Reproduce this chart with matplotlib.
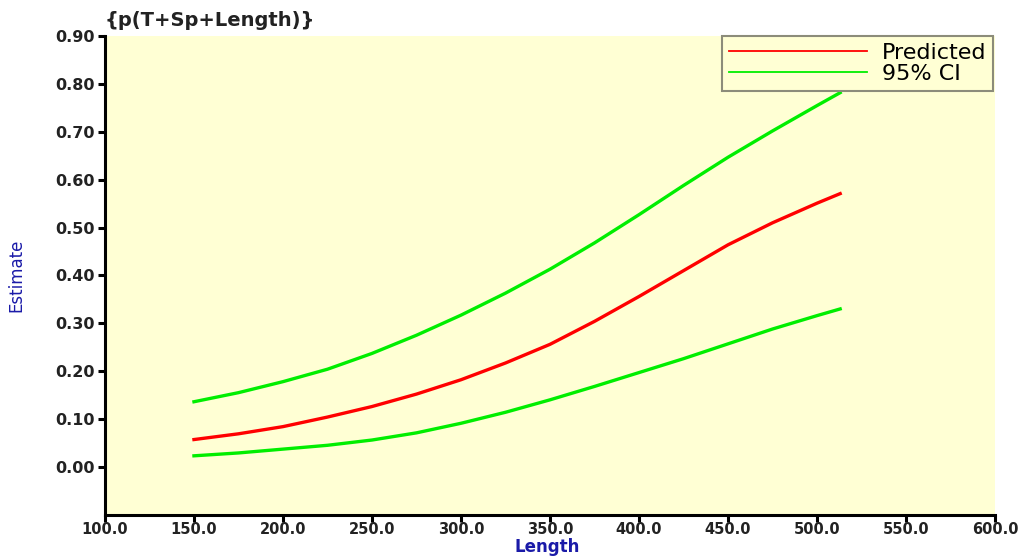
import matplotlib
matplotlib.use("Agg")
import matplotlib.pyplot as plt

# values
length = [150, 175, 200, 225, 250, 275, 300, 325, 350, 375, 400, 425, 450,
          475, 500, 513]
predicted = [0.057, 0.069, 0.084, 0.104, 0.126, 0.152, 0.182, 0.217, 0.256,
             0.304, 0.356, 0.410, 0.464, 0.510, 0.551, 0.571]
ci_upper = [0.136, 0.155, 0.178, 0.204, 0.237, 0.275, 0.317, 0.363, 0.413,
            0.468, 0.527, 0.588, 0.647, 0.702, 0.755, 0.782]
ci_lower = [0.023, 0.029, 0.037, 0.045, 0.056, 0.071, 0.091, 0.114, 0.140,
            0.168, 0.197, 0.226, 0.257, 0.288, 0.316, 0.330]

x_ticks = [100, 150, 200, 250, 300, 350, 400, 450, 500, 550, 600]
y_ticks = [0.0, 0.1, 0.2, 0.3, 0.4, 0.5, 0.6, 0.7, 0.8, 0.9]

fig = plt.figure(figsize=(10.29, 5.57), dpi=100)
ax = fig.add_axes([0.102, 0.076, 0.865, 0.859])
ax.set_facecolor("#ffffd4")

ax.plot(length, predicted, color="#ff0000", lw=2.4, label="Predicted")
ax.plot(length, ci_upper, color="#00ee00", lw=2.4, label="95% CI")
ax.plot(length, ci_lower, color="#00ee00", lw=2.4)

ax.set_xlim(100, 600)
ax.set_ylim(-0.1, 0.9)
ax.set_xticks(x_ticks)
ax.set_xticklabels([f"{v:.1f}" for v in x_ticks])
ax.set_yticks(y_ticks)
ax.set_yticklabels([f"{v:.2f}" for v in y_ticks])

for s in ["top", "right"]:
    ax.spines[s].set_visible(False)
for s in ["left", "bottom"]:
    ax.spines[s].set_linewidth(2.2)
ax.tick_params(direction="out", length=5, width=2.2, labelsize=11.5,
               colors="black", pad=2)
ax.tick_params(axis="x", pad=0, labelsize=10.5)
for lbl in ax.get_xticklabels() + ax.get_yticklabels():
    lbl.set_fontweight("bold")
    lbl.set_color("#222222")

ax.set_ylabel("Estimate", color="#1a1aa8", fontsize=12, labelpad=22)
fig.text(0.532, 0.001, "Length", color="#1a1aa8", fontsize=12,
         fontweight="bold", ha="center", va="bottom")

fig.text(0.102, 0.964, "{p(T+Sp+Length)}", fontsize=14, fontweight="bold",
         color="#222222", va="center", ha="left")

leg = ax.legend(loc="upper right", bbox_to_anchor=(0.998, 1.0), fontsize=16,
                handlelength=6.2, handletextpad=0.7, borderpad=0.3,
                borderaxespad=0, labelspacing=0.05, fancybox=False,
                framealpha=1, facecolor="#ffffd4", edgecolor="#8c8c7a")
leg.get_frame().set_linewidth(1.5)
for line in leg.get_lines():
    line.set_linewidth(1.3)

plt.savefig("out.png", dpi=100)
plt.close()
